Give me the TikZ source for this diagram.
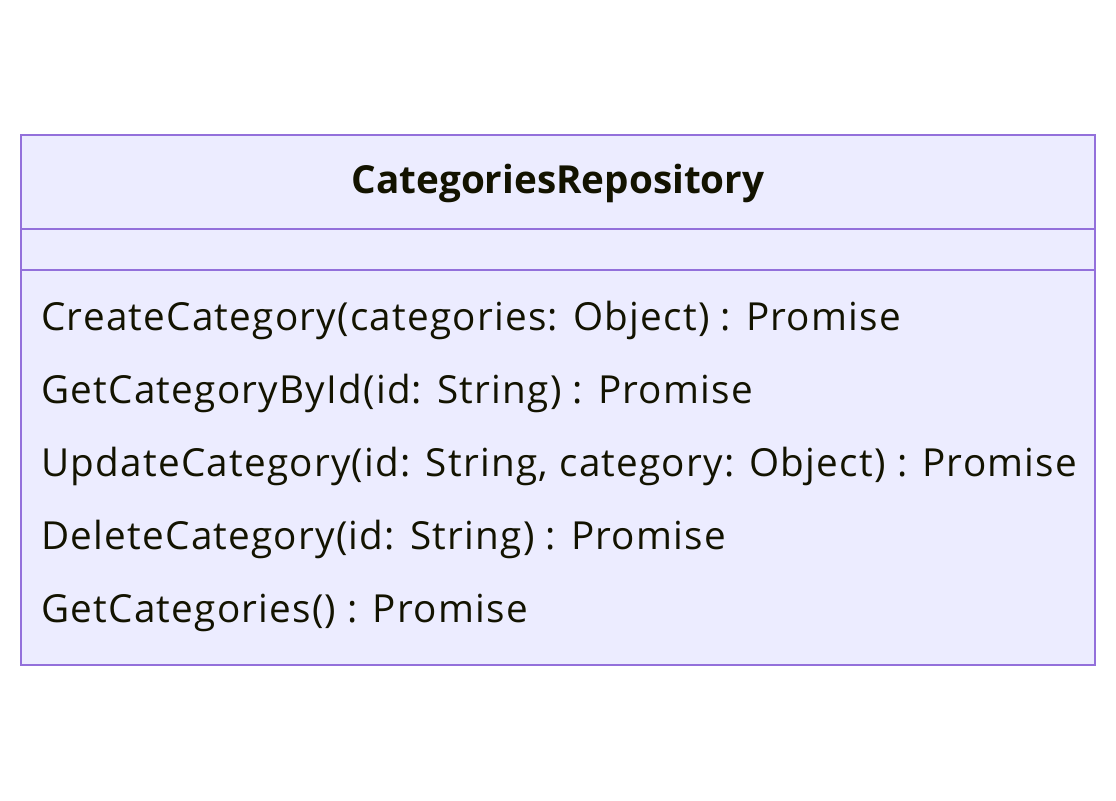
\documentclass[tikz,border=0pt]{standalone}
\usepackage{fontspec}
\setmainfont{Open Sans}
\newfontfamily\methodfont[LetterSpace=3.2]{Open Sans}
\definecolor{classfill}{HTML}{ECECFF}
\definecolor{classline}{HTML}{9370DB}
\definecolor{classtext}{HTML}{131300}
\begin{document}
\begin{tikzpicture}[x=0.02cm,y=-0.02cm]
\tikzstyle{every node}=[font=\fontsize{22}{26}\selectfont, text=classtext, inner sep=0pt]
\tikzstyle{method}=[anchor=base west, font=\fontsize{22}{26}\selectfont\methodfont]
	\useasboundingbox (0,0) rectangle (1116,801);
	% class box
	\draw[classline, fill=classfill, line width=1.2pt] (21,135) rectangle (1095,665);
	\draw[classline, line width=1.2pt] (21,229) to (1095,229);
	\draw[classline, line width=1.2pt] (21,270) to (1095,270);
	\node[anchor=base] (title) at (558,193) {\bfseries CategoriesRepository};

	% methods
	\node[method] (create) at (41,330) {CreateCategory(categories: Object) : Promise};
	\node[method] (getbyid) at (41,403) {GetCategoryById(id: String) : Promise};
	\node[method] (update) at (41,476) {UpdateCategory(id: String, category: Object) : Promise};
	\node[method] (delete) at (41,549) {DeleteCategory(id: String) : Promise};
	\node[method] (getall) at (41,622) {GetCategories() : Promise};
\end{tikzpicture}
\end{document}
